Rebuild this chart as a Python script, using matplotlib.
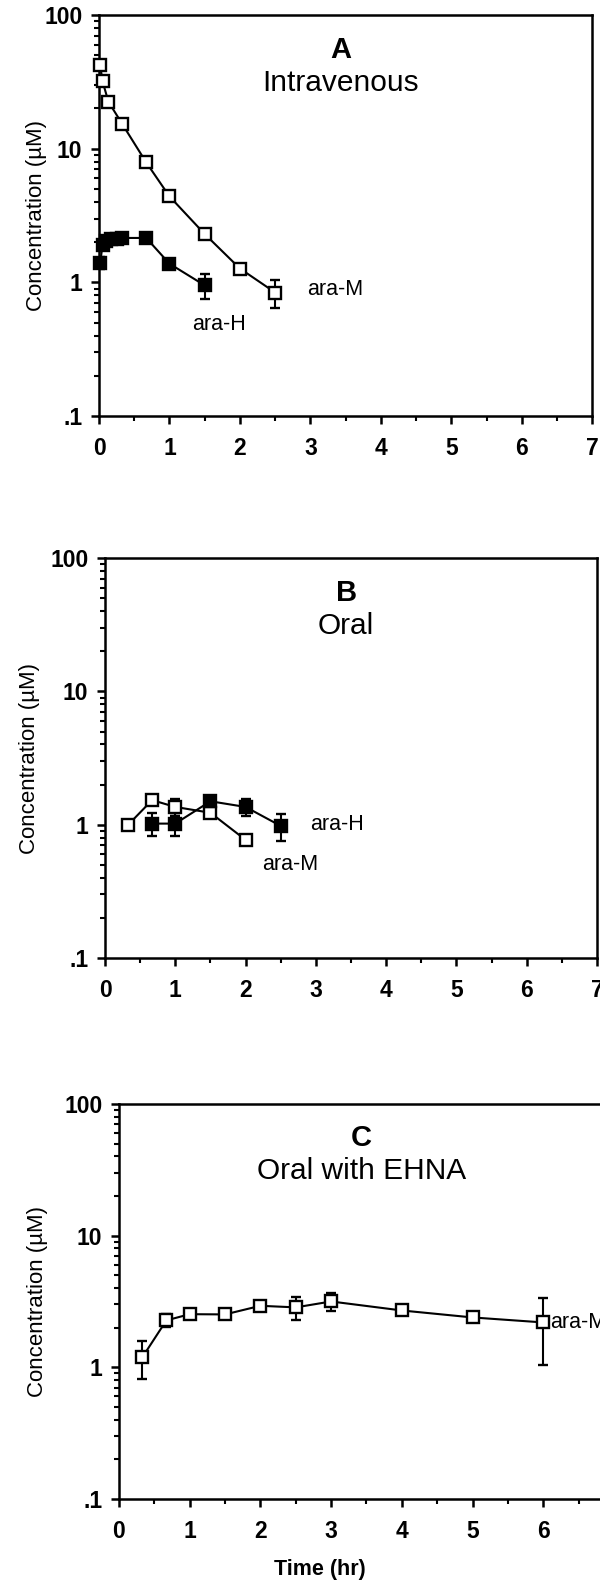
import matplotlib
matplotlib.use("Agg")
import matplotlib.pyplot as plt
from matplotlib.ticker import FixedLocator, LogLocator, MultipleLocator, NullFormatter

plt.rcParams['font.family'] = ['Liberation Sans', 'DejaVu Sans']

# Panel A - intravenous
a_m_t = [0.017, 0.05, 0.133, 0.33, 0.67, 1.0, 1.5, 2.0, 2.5]
a_m_c = [42, 32, 22.5, 15.3, 7.9, 4.4, 2.3, 1.27, 0.84]
a_m_err = [3, 1.5, 0.8, 0.6, 0.4, 0.2, 0.15, 0.05, 0.2]
a_h_t = [0.017, 0.05, 0.1, 0.167, 0.25, 0.33, 0.67, 1.0, 1.5]
a_h_c = [1.4, 1.9, 2.05, 2.1, 2.1, 2.15, 2.15, 1.38, 0.95]
a_h_err = [0.15, 0.15, 0.1, 0.1, 0.08, 0.08, 0.08, 0.08, 0.2]

# Panel B - oral
b_m_t = [0.33, 0.67, 1.0, 1.5, 2.0]
b_m_c = [1.0, 1.53, 1.36, 1.23, 0.77]
b_m_err = [0.03, 0.05, 0.2, 0.03, 0.03]
b_h_t = [0.67, 1.0, 1.5, 2.0, 2.5]
b_h_c = [1.02, 1.02, 1.5, 1.36, 0.98]
b_h_err = [0.2, 0.2, 0.05, 0.2, 0.22]

# Panel C - oral with EHNA
c_m_t = [0.33, 0.67, 1.0, 1.5, 2.0, 2.5, 3.0, 4.0, 5.0, 6.0]
c_m_c = [1.19, 2.27, 2.53, 2.52, 2.93, 2.85, 3.16, 2.7, 2.39, 2.19]
c_m_err = [0.38, 0.25, 0.05, 0.05, 0.05, 0.55, 0.5, 0.05, 0.05, 1.15]

yticks = [0.1, 1, 10, 100]
ytick_labels = ['.1', '1', '10', '100']

fig = plt.figure(figsize=(6, 15.82), dpi=100)


def panel(rect, letter, title):
    ax = fig.add_axes(rect)
    ax.set_yscale('log')
    ax.set_ylim(0.1, 100)
    ax.set_xlim(0, 7)
    ax.yaxis.set_major_locator(FixedLocator(yticks))
    ax.set_yticklabels(ytick_labels)
    ax.yaxis.set_minor_locator(LogLocator(base=10, subs=range(2, 10)))
    ax.yaxis.set_minor_formatter(NullFormatter())
    ax.xaxis.set_major_locator(MultipleLocator(1))
    ax.xaxis.set_minor_locator(MultipleLocator(0.5))
    for s in ax.spines.values():
        s.set_linewidth(1.8)
    ax.tick_params(which='major', direction='out', length=6, width=1.8,
                   labelsize=16.5)
    ax.tick_params(axis='y', which='major', pad=6)
    ax.tick_params(axis='x', which='major', pad=9)
    ax.tick_params(which='minor', direction='out', length=3.5, width=1.5)
    ax.tick_params(top=False, right=False, which='both')
    for lb in ax.get_xticklabels() + ax.get_yticklabels():
        lb.set_fontweight('bold')
    ax.text(0.49, 0.913, letter, transform=ax.transAxes, ha='center',
            va='center', fontsize=21, fontweight='bold')
    ax.text(0.49, 0.83, title, transform=ax.transAxes, ha='center',
            va='center', fontsize=21.5)
    return ax


def series(ax, t, c, err, filled):
    eb = ax.errorbar(t, c, yerr=err, fmt='-s', color='black', lw=1.5,
                     elinewidth=1.5, capsize=3.5, capthick=1.5,
                     markersize=8.5, markeredgewidth=1.7,
                     markerfacecolor='black' if filled else 'white',
                     markeredgecolor='black', zorder=3)
    eb[0].set_clip_on(False)


axA = panel([0.165, 0.737, 0.822, 0.2535], 'A', 'Intravenous')
series(axA, a_h_t, a_h_c, a_h_err, True)
series(axA, a_m_t, a_m_c, a_m_err, False)
axA.text(2.95, 0.88, 'ara-M', fontsize=15.5, va='center', ha='left')
axA.text(1.32, 0.48, 'ara-H', fontsize=15.5, va='center', ha='left')

axB = panel([0.175, 0.3944, 0.82, 0.2528], 'B', 'Oral')
series(axB, b_m_t, b_m_c, b_m_err, False)
series(axB, b_h_t, b_h_c, b_h_err, True)
axB.text(2.92, 1.0, 'ara-H', fontsize=15.5, va='center', ha='left')
axB.text(2.24, 0.5, 'ara-M', fontsize=15.5, va='center', ha='left')

axC = panel([0.1983, 0.0525, 0.825, 0.2497], 'C', 'Oral with EHNA')
series(axC, c_m_t, c_m_c, c_m_err, False)
axC.text(6.1, 2.19, 'ara-M', fontsize=15.5, va='center', ha='left')

for ax, x in [(axA, 37), (axB, 30), (axC, 38)]:
    p = ax.get_position()
    fig.text(x / 600, p.y0 + p.height / 2, 'Concentration (\u00b5M)',
             rotation=90, ha='center', va='center', fontsize=16)

fig.text(320 / 600, 1 - 1569 / 1582, 'Time (hr)', ha='center', va='center',
         fontsize=15.5, fontweight='bold')

fig.savefig('out.png', dpi=100)
